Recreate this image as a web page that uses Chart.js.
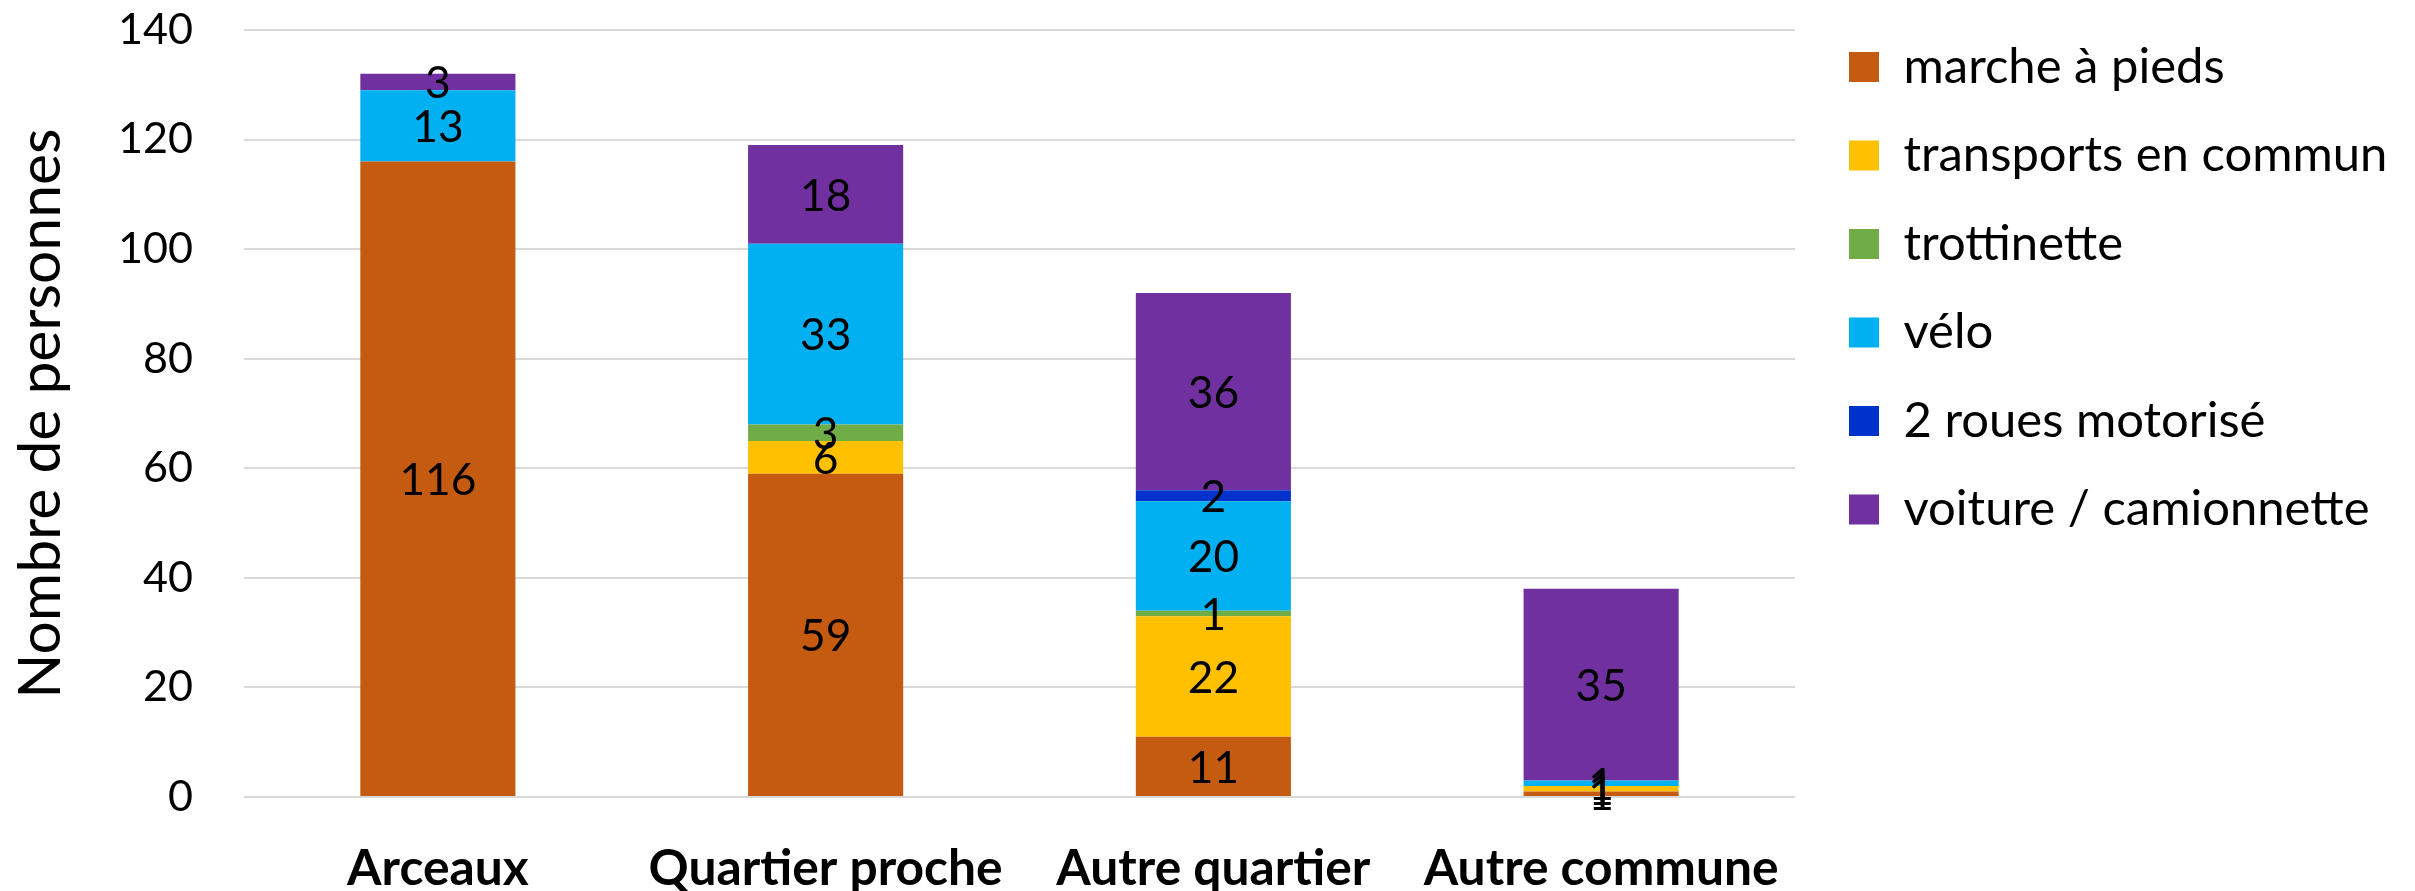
<!DOCTYPE html>
<html>
<head>
<meta charset="utf-8">
<script src="https://cdn.jsdelivr.net/npm/chart.js@4.4.1/dist/chart.umd.min.js"></script>
<style>
  html, body { margin: 0; padding: 0; background: #ffffff; }
  #wrap { position: relative; width: 2415px; height: 891px; }
</style>
</head>
<body>
<div id="wrap"><canvas id="c" width="2415" height="891"></canvas></div>
<script>
const categories = ['Arceaux', 'Quartier proche', 'Autre quartier', 'Autre commune'];
const seriesNames = ['marche à pieds', 'transports en commun', 'trottinette', 'vélo', '2 roues motorisé', 'voiture / camionnette'];
const marche = [116, 59, 11, 1];
const transports = [0, 6, 22, 1];
const trottinette = [0, 3, 1, 0];
const velo = [13, 33, 20, 1];
const deuxRoues = [0, 0, 2, 0];
const voiture = [3, 18, 36, 35];
const yTicks = [0, 20, 40, 60, 80, 100, 120, 140];
const yTitle = 'Nombre de personnes';

const colors = ['#C55A11', '#FFC000', '#70AD47', '#00B0F0', '#0033CC', '#7030A0'];
const FAMILY = 'Lato';

const mctx = document.createElement('canvas').getContext('2d');
function fit(text, target, weight) {
  mctx.font = weight + ' 100px ' + FAMILY;
  return 100 * target / mctx.measureText(text).width;
}

function build() {
  const legendSize = fit('transports en commun', 484, 'normal');
  const xSize = fit('Autre commune', 355, 'bold');
  const ySize = fit('60', 50, 'normal');
  const titleSize = fit(yTitle, 570, 'normal');
  const dlSize = fit('116', 77, 'normal');
  mctx.font = 'normal ' + legendSize + 'px ' + FAMILY;
  const legendTextW = mctx.measureText('transports en commun').width;
  const rowStep = 88.5;
  const legPad = rowStep - legendSize;
  const chartRight = 1795;
  const padRight = 2415 - chartRight - (legPad + 30 + legendSize / 2 + legendTextW + 10);
  const shiftX = 1849 - (chartRight + legPad);
  const shiftY = 67 - (legPad + legendSize / 2);

  const seriesData = [marche, transports, trottinette, velo, deuxRoues, voiture];
  const datasets = seriesData.map((d, i) => ({
    label: seriesNames[i],
    data: d,
    backgroundColor: colors[i],
    borderWidth: 0,
    categoryPercentage: 1.0,
    barPercentage: 0.4
  }));

  const segLabels = {
    id: 'segLabels',
    afterDatasetsDraw(chart) {
      const ctx = chart.ctx;
      ctx.save();
      ctx.font = 'normal ' + dlSize + 'px ' + FAMILY;
      ctx.fillStyle = '#000000';
      ctx.textAlign = 'center';
      ctx.textBaseline = 'middle';
      chart.data.datasets.forEach((ds, i) => {
        const meta = chart.getDatasetMeta(i);
        meta.data.forEach((bar, j) => {
          const v = ds.data[j];
          if (!v) return;
          const p = bar.getProps(['x', 'y', 'base'], true);
          ctx.fillText(String(v), p.x, (p.y + p.base) / 2 + 2);
        });
      });
      ctx.restore();
    }
  };

  const legendShift = {
    id: 'legendShift',
    afterLayout(chart) {
      const lg = chart.legend;
      if (!lg) return;
      lg.left += shiftX; lg.right += shiftX;
      lg.top += shiftY; lg.bottom += shiftY;
    }
  };

  new Chart(document.getElementById('c'), {
    type: 'bar',
    data: { labels: categories, datasets },
    plugins: [segLabels, legendShift],
    options: {
      responsive: false,
      animation: false,
      devicePixelRatio: 1,
      layout: { padding: { top: 0, right: padRight, bottom: 0, left: 0 } },
      plugins: {
        tooltip: { enabled: false },
        legend: {
          position: 'right',
          align: 'start',
          labels: {
            boxWidth: 30,
            boxHeight: 30,
            padding: legPad,
            color: '#000000',
            font: { family: FAMILY, size: legendSize, lineHeight: 1.2 }
          }
        }
      },
      scales: {
        x: {
          stacked: true,
          grid: { display: false, drawTicks: false },
          border: { display: false },
          ticks: {
            color: '#000000',
            padding: 42,
            maxRotation: 0,
            autoSkip: false,
            font: { family: FAMILY, size: xSize, weight: 'bold', lineHeight: 1.2 }
          },
          afterFit(scale) { scale.height = 94; }
        },
        y: {
          stacked: true,
          min: 0,
          max: 140,
          afterBuildTicks(scale) { scale.ticks = yTicks.map(v => ({ value: v })); },
          grid: { color: '#D9D9D9', lineWidth: 2, drawTicks: false },
          border: { display: false },
          ticks: {
            color: '#000000',
            padding: 51,
            font: { family: FAMILY, size: ySize, lineHeight: 1.2 }
          },
          title: {
            display: true,
            text: yTitle,
            color: '#000000',
            padding: { top: 6, bottom: 0 },
            font: { family: FAMILY, size: titleSize, lineHeight: 1.2 }
          },
          afterFit(scale) {
            scale.width = 244;
            scale.paddingTop = 30;
            scale.paddingBottom = 0;
          }
        }
      }
    }
  });
}

Promise.all([
  document.fonts.load('normal 50px ' + FAMILY),
  document.fonts.load('bold 50px ' + FAMILY)
]).catch(() => {}).then(build);
</script>
</body>
</html>
